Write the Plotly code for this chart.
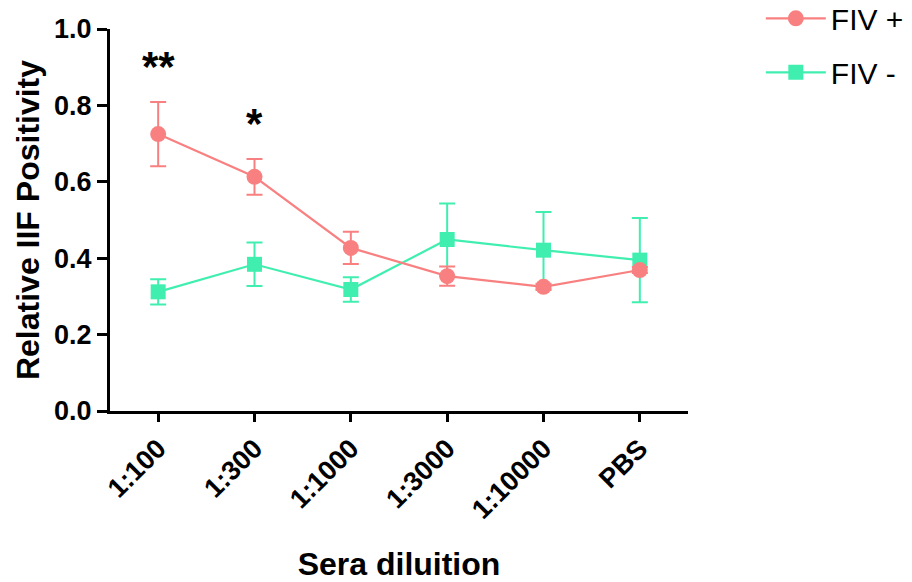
import plotly.graph_objects as go

categories = ["1:100", "1:300", "1:1000", "1:3000", "1:10000", "PBS"]
fiv_pos = [0.725, 0.613, 0.427, 0.353, 0.325, 0.369]
fiv_pos_err = [0.084, 0.047, 0.042, 0.025, 0.008, 0.008]
fiv_neg = [0.312, 0.384, 0.318, 0.449, 0.421, 0.395]
fiv_neg_err = [0.033, 0.057, 0.032, 0.094, 0.100, 0.110]
y_ticks = [0.0, 0.2, 0.4, 0.6, 0.8, 1.0]
sig_labels = [("1:100", 0.903, "**"), ("1:300", 0.753, "*")]

RED = "#F98080"
GREEN = "#40EFB0"
FONT = "Liberation Sans, Arial, sans-serif"

fig = go.Figure()
fig.add_trace(go.Scatter(
    x=categories, y=fiv_neg, name="FIV -", mode="lines+markers",
    line=dict(color=GREEN, width=2.2),
    marker=dict(symbol="square", size=15, color=GREEN),
    error_y=dict(type="data", array=fiv_neg_err, color=GREEN, thickness=2, width=8),
    legendrank=2, legendgroup="b",
))
fig.add_trace(go.Scatter(
    x=categories, y=fiv_pos, name="FIV +", mode="lines+markers",
    line=dict(color=RED, width=2.2),
    marker=dict(symbol="circle", size=16, color=RED),
    error_y=dict(type="data", array=fiv_pos_err, color=RED, thickness=2, width=8),
    legendrank=1, legendgroup="a",
))

for cat, yv, txt in sig_labels:
    fig.add_annotation(x=cat, y=yv, text=txt, showarrow=False,
                       font=dict(family=FONT, size=42, color="black", weight="bold"),
                       xref="x", yref="y")

fig.update_layout(
    width=912, height=582,
    margin=dict(l=110, r=224, t=29, b=171, autoexpand=False),
    plot_bgcolor="white", paper_bgcolor="white",
    font=dict(family=FONT, color="black"),
    showlegend=True,
    legend=dict(x=1.126, y=1.096, xanchor="left", yanchor="top",
                font=dict(family=FONT, size=30, color="black"),
                tracegroupgap=12, itemwidth=60),
    xaxis=dict(
        type="category", categoryorder="array", categoryarray=categories,
        range=[-0.5, 5.5],
        showline=True, linecolor="black", linewidth=3,
        ticks="outside", ticklen=8, tickwidth=3, tickcolor="black",
        tickangle=-45,
        tickfont=dict(family=FONT, size=27, color="black", weight="bold"),
        showgrid=False, zeroline=False,
        title=dict(text="Sera diluition", standoff=40,
                   font=dict(family=FONT, size=32, color="black", weight="bold")),
        automargin=False,
    ),
    yaxis=dict(
        range=[0, 1], tickvals=y_ticks, ticktext=[f"{v:.1f}" for v in y_ticks],
        showline=True, linecolor="black", linewidth=3,
        ticks="outside", ticklen=10, tickwidth=3, tickcolor="black",
        tickfont=dict(family=FONT, size=27, color="black", weight="bold"),
        showgrid=False, zeroline=False,
        title=dict(text="Relative IIF Positivity", standoff=5,
                   font=dict(family=FONT, size=32, color="black", weight="bold")),
        automargin=False,
    ),
)

fig.write_html("out.html")
